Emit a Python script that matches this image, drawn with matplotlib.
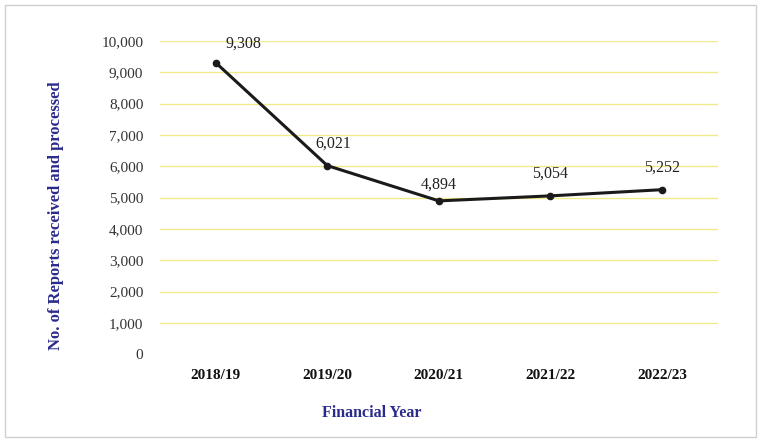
import numpy as np
import matplotlib.pyplot as plt
from matplotlib.patches import Rectangle

years = ['2018/19', '2019/20', '2020/21', '2021/22', '2022/23']
reports = [9308, 6021, 4894, 5054, 5252]
labels = ['9,308', '6,021', '4,894', '5,054', '5,252']
yticks = np.arange(0, 10001, 1000)

plt.rcParams['font.family'] = ['Liberation Serif', 'DejaVu Serif']

fig = plt.figure(figsize=(7.58, 4.41), dpi=100)
ax = fig.add_axes([0.211, 0.197, 0.736, 0.710])

x = np.arange(len(years))
ax.plot(x, reports, color='#1a1a1a', lw=2.2, marker='o', ms=4.5, zorder=3)

offsets = [(20, 8), (4, 10), (0, 6), (0, 10), (0, 10)]
for xi, yi, lab, off in zip(x, reports, labels, offsets):
    ax.annotate(lab, (xi, yi), xytext=off, textcoords='offset points',
                ha='center', va='bottom', fontsize=11.5, color='#222222')

ax.set_xlim(-0.5, len(years) - 0.5)
ax.set_ylim(0, 10000)
ax.set_yticks(yticks)
ax.set_yticklabels([f'{v:,}' for v in yticks], fontsize=11, color='#333333')
ax.set_xticks(x)
ax.set_xticklabels(years, fontsize=11, fontweight='bold', color='#111111')
ax.tick_params(axis='y', length=0, pad=12)
ax.tick_params(axis='x', length=0, pad=11)

for v in yticks[1:]:
    ax.axhline(v, color='#f1e98a', lw=1, zorder=1)

for s in ax.spines.values():
    s.set_visible(False)

fig.text(0.490, 0.063, 'Financial Year', ha='center', va='center',
         fontsize=11.5, fontweight='bold', color='#2b2b8c')
fig.text(0.074, 0.51, 'No. of Reports received and processed', ha='center',
         va='center', rotation=90, fontsize=12, fontweight='bold', color='#2b2b8c')

fig.patches.append(Rectangle((0.007, 0.01), 0.99, 0.978, transform=fig.transFigure,
                             fill=False, edgecolor='#d0d0d0', lw=1))

fig.savefig('out.png', dpi=100)
